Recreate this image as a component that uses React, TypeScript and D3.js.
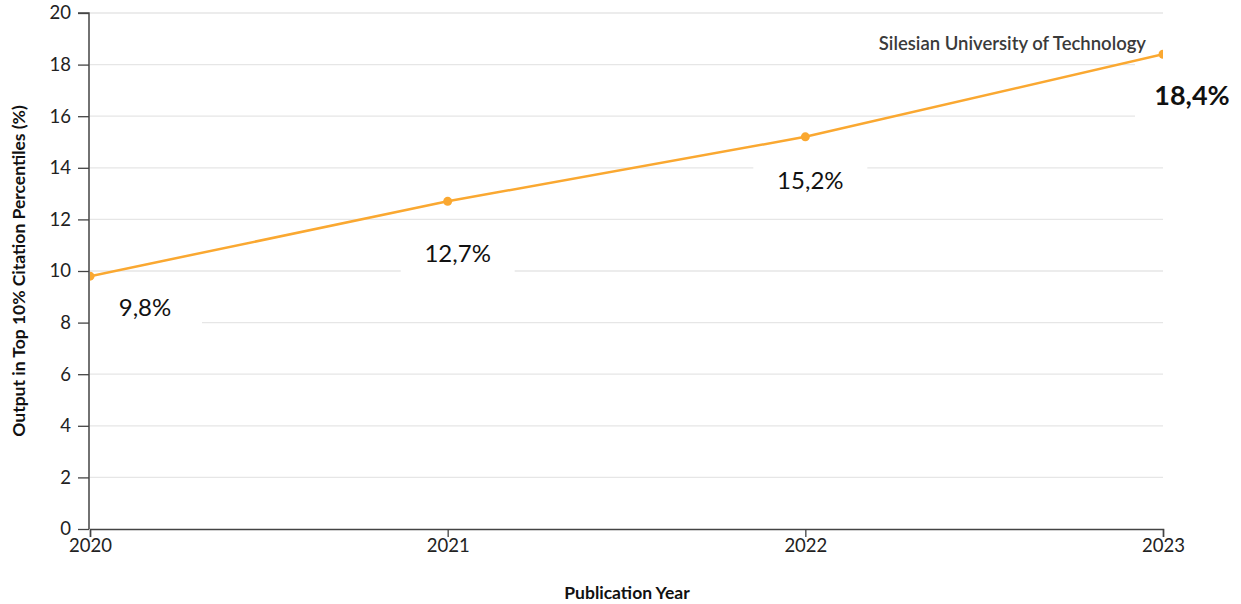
import React, { useRef, useEffect } from "react";
import * as d3 from "d3";

const years = [2020, 2021, 2022, 2023];
const values = [9.8, 12.7, 15.2, 18.4];
const valueLabels = ["9,8%", "12,7%", "15,2%", "18,4%"];
const yTicks = [0, 2, 4, 6, 8, 10, 12, 14, 16, 18, 20];
const seriesName = "Silesian University of Technology";

// label placement relative to each point (px)
const labelDx = [55, 10, 5, 29];
const labelDy = [31, 52, 44, 41];

export default function App() {
  const ref = useRef<SVGSVGElement>(null);

  const width = 1241;
  const height = 604;
  const left = 90;
  const right = 1163;
  const top = 13;
  const bottom = 529;
  const orange = "#faa831";
  const font = "Lato, 'Open Sans', sans-serif";

  const x = d3.scaleLinear().domain([2020, 2023]).range([left, right]);
  const y = d3.scaleLinear().domain([0, 20]).range([bottom, top]);

  useEffect(() => {
    const svg = d3.select(ref.current);
    svg.selectAll("*").remove();

    svg
      .append("defs")
      .append("clipPath")
      .attr("id", "plot")
      .append("rect")
      .attr("x", left)
      .attr("y", 0)
      .attr("width", right - left)
      .attr("height", bottom);

    // gridlines
    svg
      .append("g")
      .selectAll("line")
      .data(yTicks.filter((d) => d > 0))
      .join("line")
      .attr("x1", left)
      .attr("x2", right)
      .attr("y1", (d) => y(d))
      .attr("y2", (d) => y(d))
      .attr("stroke", "#e6e6e6")
      .attr("stroke-width", 1.3);

    // label backgrounds
    const boxes = svg.append("g");
    values.forEach((v, i) => {
      const cx = x(years[i]) + labelDx[i];
      const cy = y(v) + labelDy[i];
      const w = 114;
      boxes
        .append("rect")
        .attr("x", i === 3 ? 1135 : cx - w / 2)
        .attr("y", i === 3 ? cy - 38 : cy - 22)
        .attr("width", i === 3 ? 110 : w)
        .attr("height", i === 3 ? 66 : 44)
        .attr("fill", "#fff");
    });

    const line = d3
      .line<number>()
      .x((_, i) => x(years[i]))
      .y((d) => y(d));

    const plot = svg.append("g").attr("clip-path", "url(#plot)");
    plot
      .append("path")
      .datum(values)
      .attr("d", line)
      .attr("fill", "none")
      .attr("stroke", orange)
      .attr("stroke-width", 2.5);
    plot
      .selectAll("circle")
      .data(values)
      .join("circle")
      .attr("cx", (_, i) => x(years[i]))
      .attr("cy", (d) => y(d))
      .attr("r", 4.5)
      .attr("fill", orange);

    // axes
    const yAxis = svg
      .append("g")
      .attr("transform", `translate(${left - 1},0)`)
      .call(d3.axisLeft(y).tickValues(yTicks).tickSize(11).tickPadding(7));
    const xAxis = svg
      .append("g")
      .attr("transform", `translate(0,${bottom})`)
      .call(
        d3
          .axisBottom(x)
          .tickValues(years)
          .tickFormat(d3.format("d"))
          .tickSize(8)
          .tickPadding(2)
      );
    [yAxis, xAxis].forEach((g) => {
      g.select(".domain").attr("stroke", "#444").attr("stroke-width", 1.5);
      g.selectAll(".tick line").attr("stroke", "#444").attr("stroke-width", 1.3);
      g.selectAll(".tick text")
        .attr("fill", "#222")
        .style("font-family", font)
        .style("font-size", "18.5px");
    });
    yAxis.select(".domain").attr("d", `M-11,${top}H0V${bottom}`);

    // value labels
    svg
      .append("g")
      .selectAll("text")
      .data(values)
      .join("text")
      .attr("x", (_, i) => x(years[i]) + labelDx[i])
      .attr("y", (d, i) => y(d) + labelDy[i])
      .attr("dy", "0.35em")
      .attr("text-anchor", "middle")
      .attr("fill", "#111")
      .style("font-family", font)
      .style("font-size", (_, i) => (i === 3 ? "27px" : "24px"))
      .style("font-weight", (_, i) => (i === 3 ? "bold" : "normal"))
      .text((_, i) => valueLabels[i]);

    svg
      .append("text")
      .attr("x", 1146)
      .attr("y", 50)
      .attr("text-anchor", "end")
      .attr("fill", "#3a3a3a")
      .style("font-family", font)
      .style("font-size", "18.5px")
      .style("font-weight", "600")
      .text(seriesName);

    svg
      .append("text")
      .attr("transform", `translate(25,${(top + bottom) / 2}) rotate(-90)`)
      .attr("text-anchor", "middle")
      .attr("fill", "#111")
      .style("font-family", font)
      .style("font-size", "17.5px")
      .style("font-weight", "bold")
      .text("Output in Top 10% Citation Percentiles (%)");

    svg
      .append("text")
      .attr("x", 627)
      .attr("y", 599)
      .attr("text-anchor", "middle")
      .attr("fill", "#111")
      .style("font-family", font)
      .style("font-size", "17.5px")
      .style("font-weight", "bold")
      .text("Publication Year");
  }, []);

  return (
    <svg
      ref={ref}
      width={width}
      height={height}
      style={{ position: "absolute", left: 0, top: 0, background: "#fff" }}
    ></svg>
  );
}
